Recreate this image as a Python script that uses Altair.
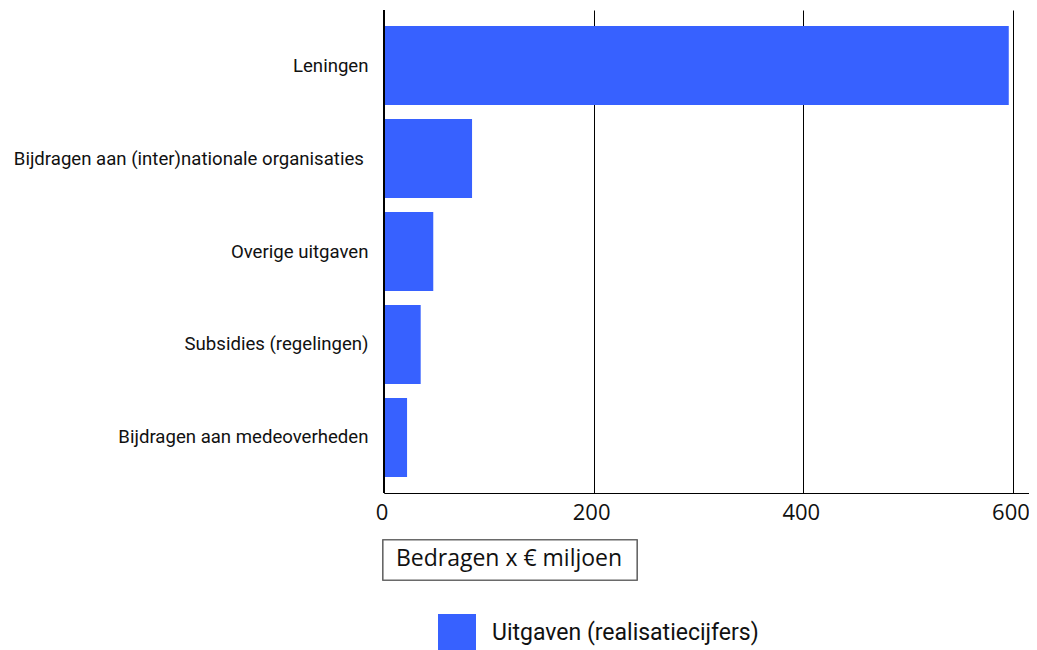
import altair as alt
import pandas as pd

categories = [
    "Leningen",
    "Bijdragen aan (inter)nationale organisaties\u00a0\u200b",
    "Overige uitgaven",
    "Subsidies (regelingen)",
    "Bijdragen aan medeoverheden",
]
values = [596, 84, 47, 35, 22]
series_name = "Uitgaven (realisatiecijfers)"
tick_values = [0, 200, 400, 600]
axis_title = "Bedragen x € miljoen"

df = pd.DataFrame({"categorie": categories, "waarde": values, "serie": [series_name] * len(categories)})
ticks_df = pd.DataFrame({"waarde": tick_values, "label": [str(v) for v in tick_values]})

W, H = 645, 483
BLUE = "#3761FF"
XSCALE = alt.Scale(domain=[0, 615.3], nice=False, zero=True)

bars = alt.Chart(df).mark_bar(color=BLUE).encode(
    y=alt.Y(
        "categorie:N",
        sort=categories,
        scale=alt.Scale(paddingInner=0.15, paddingOuter=0.172),
        axis=alt.Axis(
            title=None, ticks=False, domain=False, labelFont="Roboto", labelFontSize=18.6,
            labelColor="#111111", labelPadding=16, labelLimit=400,
        ),
    ),
    x=alt.X(
        "waarde:Q",
        scale=XSCALE,
        axis=alt.Axis(
            title=None, values=tick_values, ticks=False, grid=True, gridColor="#000000",
            gridOpacity=1, gridWidth=1, domainColor="#000000", domainWidth=1.2,
            labels=False,
        ),
    ),
    fill=alt.Fill(
        "serie:N",
        scale=alt.Scale(domain=[series_name], range=[BLUE]),
        legend=alt.Legend(
            title=None, orient="none", legendX=54, legendY=604, padding=0,
            symbolType="square", symbolSize=1444, symbolStrokeWidth=0, symbolOpacity=1,
            labelFont="Roboto", labelFontSize=23, labelColor="#111111", labelOffset=16,
            labelLimit=500,
        ),
    ),
)

tick_labels = alt.Chart(ticks_df).mark_text(
    font="Open Sans", fontSize=22, color="#111111", align="center", baseline="middle", dx=-2
).encode(
    x=alt.X("waarde:Q", scale=XSCALE),
    y=alt.value(H + 20),
    text="label:N",
)

left_line = alt.Chart(df).mark_rule(color="#000000", strokeWidth=1.5).encode(
    x=alt.value(0), y=alt.value(0), y2=alt.value(H)
)

box = alt.Chart(df).mark_rect(fill="white", stroke="#666666", strokeWidth=1.2).encode(
    x=alt.value(-1), x2=alt.value(253), y=alt.value(530), y2=alt.value(570)
)
title_text = alt.Chart(pd.DataFrame({"t": [axis_title]})).mark_text(
    font="Open Sans", fontSize=23, color="#111111", align="center", baseline="middle"
).encode(text="t:N", x=alt.value(125), y=alt.value(549))

chart = alt.layer(bars, tick_labels, left_line, box, title_text).properties(
    width=W, height=H,
    autosize=alt.AutoSizeParams(type="none"),
    padding={"left": 376, "top": 2, "right": 0, "bottom": 157},
).configure_view(stroke=None)

chart.save("out.html", embed_options={"renderer": "svg", "actions": False})
